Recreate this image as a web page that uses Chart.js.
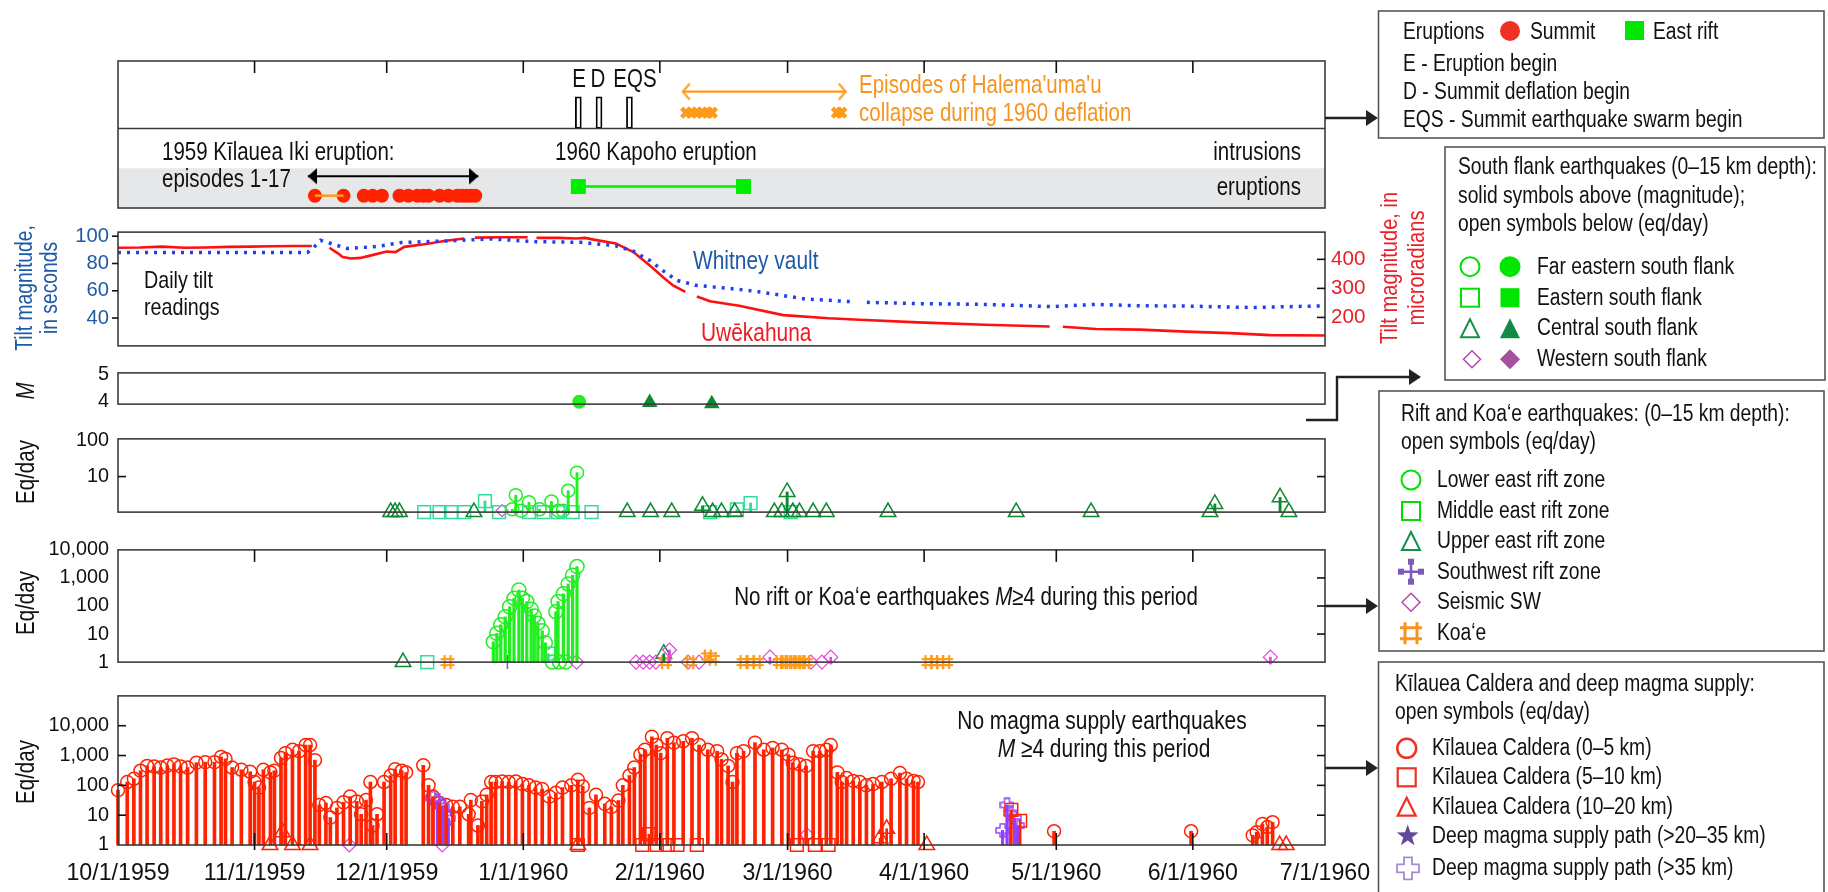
<!DOCTYPE html>
<html>
<head>
<meta charset="utf-8">
<title>Kilauea 1959-1960 timeline</title>
<script src="https://cdn.jsdelivr.net/npm/chart.js@4.4.1/dist/chart.umd.min.js"></script>
<style>
  html, body { margin: 0; padding: 0; background: #fff; }
  body { position: relative; width: 1828px; height: 892px; overflow: hidden; }
  canvas.panel { position: absolute; left: 0; z-index: 1; }
  #overlay { position: absolute; left: 0; top: 0; z-index: 2; }
  .t { position: absolute; white-space: nowrap; line-height: 1; z-index: 3; }
</style>
</head>
<body>
<svg id="overlay" width="1828" height="892"></svg>
<script>
// ---------- x axis: days since 10/1/1959 ----------
const monthDays = [0, 31, 61, 92, 123, 152, 183, 213, 244, 274];
const monthLabels = ['10/1/1959', '11/1/1959', '12/1/1959', '1/1/1960', '2/1/1960',
                     '3/1/1960', '4/1/1960', '5/1/1960', '6/1/1960', '7/1/1960'];

// ---------- top strip ----------
const eventDays = [104.5, 109.2, 116.1];                 // E, D, EQS
const collapseDays = [129, 130.2, 131.4, 132.6, 133.8, 134.8, 163.2, 164.2];
const collapseSpan = [128.2, 165.2];
const ikiSpan = [43.1, 81.8];
const summitEruptionDays = [44.7, 51.2, 55.8, 57.8, 59.9, 63.9, 65.9, 68, 69.3, 70.5, 73, 75, 77, 78.1, 79.1, 80.1, 81.1];
const episode1Span = [44.7, 51.2];
const kapohoSpan = [104.5, 142];

// ---------- daily tilt ----------
const whitneyDays = [0, 10, 20, 30, 43, 44.5, 46, 48, 50, 52, 59, 64.4, 74.5, 84.7, 95, 105, 113, 117, 120.8, 124,
                     127, 128.9, 131, 138, 145, 156, 166.5, 168.6, 170, 181.6, 196.8, 212, 222, 232, 242.4, 257.6, 274];
const whitneySec = [88, 88, 88, 88, 88, 92, 97, 95, 93, 91, 92.5, 95.4, 96.5, 98, 96, 95.5, 93, 89, 82, 74,
                    67.5, 66, 64, 62, 59.5, 54, 52, null, 51.5, 50.6, 50, 48.4, 50, 49, 48.8, 47.7, 49];
const uweDays = [0, 5, 10, 15, 20, 25, 30, 35, 40, 44, 46, 48, 50, 51, 53, 55, 57, 61, 63, 65,
                 69.5, 74.5, 78.6, 80, 81, 87, 93, 94, 95, 100, 104, 106, 108, 113, 117, 121, 124, 126, 128.8, 130,
                 131.4, 134.4, 141, 151, 161.3, 168.4, 181.6, 196.8, 211.5, 213, 214.5, 222, 232, 242.4, 252.5, 261.6, 274];
const uweMicrorad = [440, 441, 444, 440, 441, 443, 444, 445, 446, 446, null, 440, 420, 408, 403, 405, 412, 427, 425, 443,
                     452, 464, 472, null, 475, 476, 476, null, 474, 474, 472, 474, 468, 455, 425, 375, 335, 310, 288, null,
                     272, 256, 240, 208, 197, 192, 183, 175, 169, null, 168, 160, 158, 151, 146, 139, 138];

// ---------- south flank magnitude (M) ----------
const mFarDays = [104.7], mFarVals = [4.0];
const mCentDays = [120.7, 134.8], mCentVals = [3.98, 3.93];

// ---------- south flank eq/day ----------
const sfFarDays = [89.5, 90.3, 91.5, 93.3, 95.7, 98.4, 100.0, 101.0, 102.2, 104.2];
const sfFarVals = [1.2, 3.0, 1.1, 1.9, 1.2, 2.0, 1.1, 1.1, 4.0, 12.9];
const sfEastDays = [69.5, 73.0, 75.6, 78.6, 83.3, 86.5, 93.3, 96.6, 99.9, 103.2, 107.5, 134.4, 140.5, 143.6, 152.7];
const sfEastVals = [1, 1, 1, 1, 2.05, 1, 1, 1, 1, 1, 1, 1, 1.2, 1.8, 1];
const sfCentDays = [61.9, 62.9, 63.9, 80.8, 115.6, 120.9, 125.7, 132.7, 135, 137, 140, 149, 150.7, 151.9, 153.2,
                    154.7, 157.8, 160.8, 174.8, 203.9, 220.9, 247.9, 249, 263.8, 265.8];
const sfCentVals = [1, 1, 1, 1, 1, 1, 1, 1.5, 1, 1, 1, 1, 1, 3.7, 1, 1, 1, 1, 1, 1, 1, 1, 1.7, 2.6, 1];
const sfWestDays = [87.2], sfWestVals = [1.1];

// ---------- rift and Koa'e eq/day ----------
const lerzDays = [85.2, 86.0, 86.9, 87.9, 88.9, 89.9, 91.0, 91.8, 92.8, 93.8, 94.5, 95.3, 96.3, 97.0,
                  98.6, 99.4, 99.9, 100.2, 101.1, 101.6, 102.2, 103.2, 104.2];
const lerzVals = [5.3, 10.6, 21.5, 41, 94, 187, 372, 187, 144, 77, 44, 24.5, 13, 4.9,
                  1, 62, 144, 1, 273, 1, 613, 1250, 2540];
const merzDays = [70.2, 97.7], merzVals = [1, 2];
const uerzDays = [64.7, 123.9], uerzVals = [1, 2];
const swrzDays = [88.4], swrzVals = [1];
const seismicSwDays = [104.1, 117.6, 119.2, 120.7, 122.1, 125.2, 129.4, 131.9, 148, 157.3, 159.8, 161.8, 261.6];
const seismicSwVals = [1, 1, 1, 1, 1, 2.7, 1, 1, 1.5, 1, 1, 1.5, 1.5];
const koaeDays = [74.8, 124.2, 129.9, 133.9, 135, 142, 143.6, 145, 150.2, 151.2, 152.2, 153.2, 154.2, 155.2, 156.2,
                  184, 185.3, 186.6, 188];
const koaeVals = [1, 1, 1, 1.6, 1.3, 1, 1, 1, 1, 1, 1, 1, 1, 1, 1, 1, 1, 1, 1];

// ---------- Kilauea caldera and deep magma supply eq/day ----------
const caldDays = [0, 2.1, 3.6, 5.1, 6.6, 8.2, 9.7, 11.2, 12.7, 14.2, 15.8, 17.8, 19.8, 21.9, 23.4, 24.4, 25.9, 28, 30, 31,
  32, 33, 34.6, 35.5, 37, 38, 39.6, 41.1, 42.6, 43.6, 44.7, 45.7, 47.2, 48.2, 49.7, 51.2, 52.7, 54.2, 55.2, 56.3,
  57.3, 57.8, 58.8, 60.4, 61.9, 62.9, 64.4, 65.4, 69.3, 70.5, 71.5, 73, 74.5, 76, 77.6, 79.6, 80.1, 81.7, 82.6, 83.7,
  84.7, 85.7, 87.2, 88.7, 90.3, 91.8, 93.3, 94.8, 96.3, 97.9, 99.4, 100.9, 102.9, 104.4, 105.5, 107, 108.5, 110.5, 112, 113.6,
  114.6, 116.1, 117.2, 118.6, 119.6, 121.2, 122.2, 123.2, 124.7, 126.2, 128.3, 130.3, 131.9, 133.9, 136, 137, 138.5, 139.5, 140.5, 142,
  144.6, 146.6, 148.6, 150.7, 152.2, 153.2, 154.7, 156.2, 157.8, 159.3, 160.8, 161.8, 163.3, 164.3, 165.4, 166.9, 168.4, 169.9, 171.4, 173.4,
  175.5, 177.5, 179, 180.6, 181.6, 212.5, 243.6, 257.6, 258.5, 259.8, 260.9, 262.1];
const caldVals = [69, 129, 166, 309, 447, 427, 396, 460, 505, 430, 396, 574, 600, 600, 900, 770, 396, 333, 285, 129,
  84, 333, 272, 310, 830, 1200, 1560, 1400, 2250, 2250, 700, 22, 25.5, 8.3, 17.5, 27, 42, 29, 10.7, 32,
  129, 4.5, 10.7, 129, 213, 350, 310, 270, 470, 100, 42, 25.5, 22, 19, 19, 10.7, 32, 4.5, 29, 48,
  129, 129, 135, 129, 135, 110, 100, 84, 75, 42, 56, 84, 100, 153, 92, 17.5, 48, 24, 19, 31,
  100, 213, 396, 1070, 1560, 4230, 2250, 1200, 3800, 2700, 3000, 3800, 2250, 1560, 1400, 740, 447, 129, 1200, 1400,
  2700, 1560, 1800, 1560, 1070, 574, 505, 447, 1400, 1400, 1560, 2250, 272, 129, 175, 140, 129, 100, 110, 129,
  166, 258, 166, 140, 129, 2.9, 2.9, 2.1, 2.7, 5.1, 4, 5.8];
const cald510Days = [104.4, 119, 120.5, 122.3, 124.8, 127, 131.4, 154.1, 158.2, 161.3, 202.8, 204.8];
const cald510Vals = [1, 1, 2.3, 1, 1, 1, 1, 1, 1, 1, 15, 6.5];
const cald1020Days = [34.5, 37.3, 39.6, 43.6, 104.4, 173, 174.5, 183.6, 263.7, 265.2];
const cald1020Vals = [1, 2.7, 1, 1, 1, 1.7, 3.5, 1, 1, 1];
const deep35Days = [71.5, 72.5, 73.6, 74.2, 75, 200.8, 201.8, 202.5, 203.5, 204.2];
const deep35Vals = [37, 30, 20, 12, 8, 3.1, 22, 12, 8, 4.5];
const caldSwDays = [52.5, 73.6, 156.4], caldSwVals = [1, 1, 2.2];

// ---------- fonts ----------
function fontExists(name) {
  const c = document.createElement('canvas').getContext('2d');
  const probe = 'mmmmmmmmmlli WQ 0123456789';
  c.font = '40px monospace'; const a = c.measureText(probe).width;
  c.font = '40px "' + name + '", monospace'; const b = c.measureText(probe).width;
  c.font = '40px serif'; const d = c.measureText(probe).width;
  c.font = '40px "' + name + '", serif'; const e = c.measureText(probe).width;
  return a !== b || d !== e;
}
const NARROW = fontExists('Liberation Sans Narrow');
const FAM = NARROW ? '"Liberation Sans Narrow", "Arial Narrow", sans-serif'
                   : '"Liberation Sans", Arial, Helvetica, sans-serif';
const SX = NARROW ? 1 : 0.82;           // squeeze for html text without a narrow face
const cfs = n => NARROW ? n : Math.round(n * 0.86 * 10) / 10;
Chart.defaults.font.family = FAM;
Chart.defaults.color = '#111';

// ---------- colours ----------
const LIME = '#22ee22', TEAL = '#33dd99', DKGREEN = '#0d8a30', MAGENTA = '#e045e0';
const ORANGE = '#ff9a1a', PURPLE = '#9040ff', RED = '#ff2200';

// ---------- helpers ----------
const CW = 1400, AREA_L = 118, AREA_R = 1325;
const xy = (days, vals) => days.map((d, i) => ({ x: d, y: vals[i] }));
const span = (s, v) => [{ x: s[0], y: v }, { x: s[1], y: v }];

function symbol(w, h, draw) {
  const c = document.createElement('canvas');
  c.width = w; c.height = h;
  draw(c.getContext('2d'));
  return c;
}
const hashSym = symbol(16, 16, g => {
  g.strokeStyle = ORANGE; g.lineWidth = 2.2;
  [5, 11].forEach(p => { g.beginPath(); g.moveTo(p, 1); g.lineTo(p, 15); g.moveTo(1, p); g.lineTo(15, p); g.stroke(); });
});
const deepCross = symbol(15, 15, g => {
  g.strokeStyle = PURPLE; g.lineWidth = 1.4;
  const a = 5, b = 10, e = 14, s = 1;
  g.beginPath();
  g.moveTo(a, s); g.lineTo(b, s); g.lineTo(b, a); g.lineTo(e, a); g.lineTo(e, b); g.lineTo(b, b);
  g.lineTo(b, e); g.lineTo(a, e); g.lineTo(a, b); g.lineTo(s, b); g.lineTo(s, a); g.lineTo(a, a);
  g.closePath(); g.stroke();
});
const headL = c => symbol(18, 20, g => { g.fillStyle = c; g.beginPath(); g.moveTo(9, 10); g.lineTo(18, 2); g.lineTo(18, 18); g.closePath(); g.fill(); });
const headR = c => symbol(18, 20, g => { g.fillStyle = c; g.beginPath(); g.moveTo(9, 10); g.lineTo(0, 2); g.lineTo(0, 18); g.closePath(); g.fill(); });
const chevL = c => symbol(18, 20, g => { g.strokeStyle = c; g.lineWidth = 2; g.beginPath(); g.moveTo(16, 2); g.lineTo(9, 10); g.lineTo(16, 18); g.stroke(); });
const chevR = c => symbol(18, 20, g => { g.strokeStyle = c; g.lineWidth = 2; g.beginPath(); g.moveTo(2, 2); g.lineTo(9, 10); g.lineTo(2, 18); g.stroke(); });

function stems(days, vals, color, w) {
  return { type: 'bar', data: xy(days, vals), backgroundColor: color, borderWidth: 0,
           barThickness: w, grouped: false, base: 1, clip: false };
}
function marks(days, vals, style, r, color, o = {}) {
  return { type: 'scatter', data: xy(days, vals), pointStyle: style, pointRadius: r,
           borderColor: color, backgroundColor: o.fill || 'rgba(0,0,0,0)',
           borderWidth: o.bw ?? 1.5, clip: false };
}

// frame, band and inside ticks
const framePlugin = {
  id: 'frame',
  beforeDatasetsDraw(chart, args, o) {
    const { ctx, chartArea: a } = chart;
    const y = chart.scales.y;
    ctx.save();
    (o.bands || []).forEach(b => {
      const p0 = y.getPixelForValue(b[0]), p1 = y.getPixelForValue(b[1]);
      ctx.fillStyle = '#e6e7e8';
      ctx.fillRect(a.left, Math.min(p0, p1), a.right - a.left, Math.abs(p1 - p0));
    });
    ctx.restore();
  },
  afterDatasetsDraw(chart, args, o) {
    const { ctx, chartArea: a } = chart;
    const x = chart.scales.x;
    const seg = (x0, y0, x1, y1) => { ctx.beginPath(); ctx.moveTo(x0, y0); ctx.lineTo(x1, y1); ctx.stroke(); };
    ctx.save();
    ctx.strokeStyle = '#3c3c3c'; ctx.lineWidth = 1.6;
    (o.hlines || []).forEach(v => { const p = chart.scales.y.getPixelForValue(v); seg(a.left, p, a.right, p); });
    ctx.strokeRect(a.left, a.top, a.right - a.left, a.bottom - a.top);
    ctx.strokeStyle = '#111';
    (o.topTicks || []).forEach(d => { const p = x.getPixelForValue(d); seg(p, a.top, p, a.top + 12); });
    (o.bottomTicks || []).forEach(d => { const p = x.getPixelForValue(d); seg(p, a.bottom - 12, p, a.bottom + 5); });
    const ly = chart.scales[o.leftAxis || 'y'], ry = chart.scales[o.rightAxis || 'y'];
    (o.leftTicks || []).forEach(v => {
      const p = ly.getPixelForValue(v);
      if (o.leftOut) seg(a.left - 6, p, a.left, p); else seg(a.left, p, a.left + 8, p);
    });
    (o.rightTicks || []).forEach(v => { const p = ry.getPixelForValue(v); seg(a.right - 8, p, a.right, p); });
    ctx.restore();
  }
};

function xAxis(show) {
  return {
    type: 'linear', min: monthDays[0], max: monthDays[monthDays.length - 1], offset: false, display: !!show,
    grid: { display: false, drawTicks: false }, border: { display: false },
    afterBuildTicks: s => { s.ticks = monthDays.map(v => ({ value: v })); },
    ticks: { autoSkip: false, maxRotation: 0, minRotation: 0, padding: 15, color: '#111',
             font: { size: cfs(27) }, callback: (v, i) => monthLabels[i] },
    afterFit: s => { if (show) s.height = 47; }
  };
}
function yAxis(o) {
  const vals = o.tickVals;
  return Object.assign({
    position: 'left',
    grid: { display: false, drawTicks: false }, border: { display: false },
    afterBuildTicks: s => { s.ticks = vals.map(v => ({ value: v })); },
    ticks: { autoSkip: false, padding: o.pad || 9, color: o.color || '#111', font: { size: cfs(o.size || 23) },
             callback: v => Number(v).toLocaleString('en-US') },
    afterFit: s => { s.width = o.position === 'right' ? CW - AREA_R : AREA_L; }
  }, o.extra || {});
}

function panel(top, bottom, o) {
  const padT = o.padT ?? 16, padB = o.padB ?? 16, axisH = o.axisH || 0;
  const cv = document.createElement('canvas');
  cv.className = 'panel';
  cv.width = CW; cv.height = bottom - top + padT + padB + axisH;
  cv.style.top = (top - padT) + 'px';
  document.body.appendChild(cv);
  return new Chart(cv, {
    type: 'scatter',
    data: { datasets: o.datasets },
    options: {
      responsive: false, animation: false, events: [],
      layout: { padding: { top: padT, bottom: padB, left: o.padL || 0, right: o.padR ?? (CW - AREA_R) } },
      plugins: { legend: { display: false }, tooltip: { enabled: false }, frame: o.frame || {} },
      scales: Object.assign({ x: xAxis(o.xLabels) }, o.scales)
    },
    plugins: [framePlugin]
  });
}

// ---------- panel 1: events strip (rows in y units) ----------
const ROW = { band: [0, 1], divider: 2, eventBar: [2, 2.8], collapseArrow: 2.93, collapse: 2.4,
              ikiArrow: 0.8, summit: 0.31, kapoho: 0.54 };
panel(61, 208, {
  padL: AREA_L,
  scales: { y: { type: 'linear', min: 0, max: 3.7, display: false } },
  frame: { bands: [ROW.band], hlines: [ROW.divider], topTicks: monthDays.slice(1, -1) },
  datasets: [
    { type: 'bar', data: eventDays.map(d => ({ x: d, y: ROW.eventBar })), backgroundColor: '#fff',
      borderColor: '#000', borderWidth: 1.8, borderSkipped: false, barThickness: 6, grouped: false },
    { type: 'line', data: span(collapseSpan, ROW.collapseArrow), borderColor: ORANGE, borderWidth: 2.2,
      pointRadius: 1, pointStyle: [chevL(ORANGE), chevR(ORANGE)], clip: false },
    marks(collapseDays, collapseDays.map(() => ROW.collapse), 'crossRot', 6.5, ORANGE, { bw: 4.5 }),
    { type: 'line', data: span(ikiSpan, ROW.ikiArrow), borderColor: '#000', borderWidth: 2,
      pointRadius: 1, pointStyle: [headL('#000'), headR('#000')], clip: false },
    { type: 'line', data: span(episode1Span, ROW.summit), borderColor: ORANGE, borderWidth: 2.5, pointRadius: 0 },
    marks(summitEruptionDays, summitEruptionDays.map(() => ROW.summit), 'circle', 7, RED, { fill: RED, bw: 0 }),
    { type: 'line', data: span(kapohoSpan, ROW.kapoho), borderColor: '#00ee00', borderWidth: 2.5,
      pointRadius: 10.6, pointStyle: 'rect', pointBackgroundColor: '#00ee00', pointBorderWidth: 0 }
  ]
});

// ---------- panel 2: daily tilt ----------
panel(227, 351, {
  padR: 0,
  scales: {
    y: yAxis({ tickVals: [40, 60, 80, 100], color: '#1f5aa6', size: 23.5, extra: { type: 'linear', min: 19.6, max: 103 } }),
    y2: yAxis({ tickVals: [200, 300, 400], color: '#e8202a', size: 24, pad: 6, position: 'right',
                extra: { type: 'linear', position: 'right', min: 102, max: 493.8 } })
  },
  frame: { leftTicks: [40, 60, 80, 100], leftOut: true, rightAxis: 'y2', rightTicks: [200, 300, 400] },
  datasets: [
    { type: 'line', data: xy(whitneyDays, whitneySec), yAxisID: 'y', borderColor: '#1f3ff0',
      borderWidth: 3.5, borderDash: [3, 6], pointRadius: 0, spanGaps: false },
    { type: 'line', data: xy(uweDays, uweMicrorad), yAxisID: 'y2', borderColor: '#ff1010',
      borderWidth: 2.6, pointRadius: 0, spanGaps: false }
  ]
});

// ---------- panel 3: magnitude ----------
panel(368, 409, {
  scales: { y: yAxis({ tickVals: [4, 5], extra: { type: 'linear', min: 3.917, max: 5.056 } }) },
  datasets: [
    marks(mFarDays, mFarVals, 'circle', 7, LIME, { fill: LIME, bw: 0 }),
    marks(mCentDays, mCentVals, 'triangle', 9, DKGREEN, { fill: DKGREEN, bw: 0 })
  ]
});

// ---------- panel 4: south flank eq/day ----------
panel(434, 517, {
  scales: { y: yAxis({ tickVals: [10, 100], extra: { type: 'logarithmic', min: 1, max: 115 } }) },
  frame: { leftTicks: [10], rightTicks: [10] },
  datasets: [
    stems(sfFarDays, sfFarVals, LIME, 2.2),
    stems(sfCentDays, sfCentVals, DKGREEN, 2.2),
    stems(sfEastDays, sfEastVals, TEAL, 2.2),
    marks(sfCentDays, sfCentVals, 'triangle', 9, DKGREEN),
    marks(sfEastDays, sfEastVals, 'rect', 9, TEAL),
    marks(sfFarDays, sfFarVals, 'circle', 6.5, LIME),
    marks(sfWestDays, sfWestVals, 'rectRot', 6, MAGENTA, { bw: 1.2 })
  ]
});

// ---------- panel 5: rift and Koa'e eq/day ----------
panel(545, 667, {
  scales: { y: yAxis({ tickVals: [1, 10, 100, 1000, 10000], extra: { type: 'logarithmic', min: 1, max: 10000 } }) },
  frame: { topTicks: monthDays.slice(1, -1), rightTicks: [10, 100, 1000] },
  datasets: [
    stems(lerzDays, lerzVals, LIME, 2.6),
    stems(uerzDays, uerzVals, DKGREEN, 2),
    stems(merzDays, merzVals, TEAL, 2),
    stems(seismicSwDays, seismicSwVals, MAGENTA, 2),
    stems(koaeDays, koaeVals, ORANGE, 2),
    marks(koaeDays, koaeVals, hashSym, 6, ORANGE),
    marks(seismicSwDays, seismicSwVals, 'rectRot', 7, MAGENTA, { bw: 1.2 }),
    marks(uerzDays, uerzVals, 'triangle', 9, DKGREEN),
    marks(merzDays, merzVals, 'rect', 9, TEAL),
    marks(swrzDays, swrzVals, 'cross', 7, PURPLE),
    marks(lerzDays, lerzVals, 'circle', 7, LIME)
  ]
});

// ---------- panel 6: caldera and deep magma supply eq/day ----------
panel(691, 845, {
  padB: 0, axisH: 47, xLabels: true,
  scales: { y: yAxis({ tickVals: [1, 10, 100, 1000, 10000], extra: { type: 'logarithmic', min: 1, max: 100000 } }) },
  frame: { bottomTicks: monthDays.slice(1, -1), leftTicks: [10, 100, 1000, 10000], rightTicks: [10, 100, 1000, 10000] },
  datasets: [
    stems(caldDays, caldVals, RED, 3),
    stems(cald510Days, cald510Vals, RED, 2),
    stems(cald1020Days, cald1020Vals, RED, 2),
    stems(deep35Days, deep35Vals, PURPLE, 2.4),
    marks(cald1020Days, cald1020Vals, 'triangle', 9, RED),
    marks(cald510Days, cald510Vals, 'rect', 9, RED),
    marks(caldSwDays, caldSwVals, 'rectRot', 7, MAGENTA, { bw: 1.2 }),
    marks(deep35Days, deep35Vals, deepCross, 6, PURPLE),
    marks(caldDays, caldVals, 'circle', 6.5, RED)
  ]
});

// ---------- text ----------
function txt(x, base, html, o = {}) {
  const size = o.size || 23;
  const d = document.createElement('div');
  d.className = 't';
  d.innerHTML = html;
  d.style.fontFamily = FAM;
  d.style.fontSize = size + 'px';
  d.style.color = o.color || '#111';
  d.style.left = x + 'px';
  d.style.top = (base - 0.8465 * size) + 'px';
  const al = o.align || 'left';
  const shift = al === 'center' ? 'translateX(-50%) ' : al === 'right' ? 'translateX(-100%) ' : '';
  d.style.transformOrigin = al === 'center' ? '50% 50%' : al;
  d.style.transform = shift + 'scaleX(' + SX + ')';
  document.body.appendChild(d);
}
function rtxt(cx, cy, html, o = {}) {
  const size = o.size || 23;
  const d = document.createElement('div');
  d.className = 't';
  d.innerHTML = html;
  d.style.fontFamily = FAM;
  d.style.fontSize = size + 'px';
  d.style.lineHeight = (o.lh || size) + 'px';
  d.style.textAlign = 'center';
  d.style.color = o.color || '#111';
  d.style.left = cx + 'px';
  d.style.top = cy + 'px';
  d.style.transform = 'translate(-50%, -50%) rotate(-90deg) scaleX(' + SX + ')';
  document.body.appendChild(d);
}

// events strip
txt(578.6, 87.3, 'E', { size: 25, align: 'center' });
txt(598, 87.3, 'D', { size: 25, align: 'center' });
txt(635, 87.3, 'EQS', { size: 25, align: 'center' });
txt(858.7, 93.3, "Episodes of Halema'uma'u", { size: 25, color: '#f7941d' });
txt(858.7, 120.7, 'collapse during 1960 deflation', { size: 25, color: '#f7941d' });
txt(161.6, 160, '1959 Kīlauea Iki eruption:', { size: 25 });
txt(161.6, 187.3, 'episodes 1-17', { size: 25 });
txt(555, 160, '1960 Kapoho eruption', { size: 25 });
txt(1301, 160, 'intrusions', { size: 25, align: 'right' });
txt(1301, 195, 'eruptions', { size: 25, align: 'right' });

// tilt
txt(143.7, 288.3, 'Daily tilt', { size: 24 });
txt(143.7, 315, 'readings', { size: 24 });
txt(693.3, 269.3, 'Whitney vault', { size: 25.5, color: '#1f5aa6' });
txt(701.3, 341.7, 'Uwēkahuna', { size: 25.5, color: '#ee1c25' });
rtxt(36.5, 288, 'Tilt magnitude,<br>in seconds', { size: 23.5, lh: 25, color: '#1f5aa6' });
rtxt(1401.5, 268, 'Tilt magnitude, in<br>microradians', { size: 24.5, lh: 27, color: '#e8202a' });

// axis titles
rtxt(24.5, 391, '<i>M</i>', { size: 25 });
rtxt(25, 472, 'Eq/day', { size: 25 });
rtxt(25, 603, 'Eq/day', { size: 25 });
rtxt(25, 772, 'Eq/day', { size: 25 });

// panel notes
txt(966, 605, 'No rift or Koa‘e earthquakes <i>M</i>≥4 during this period', { size: 25, align: 'center' });
txt(1101.6, 730, 'No magma supply earthquakes', { size: 25.5, align: 'center' });
txt(1103.5, 757.3, '<i>M</i> ≥4 during this period', { size: 25.5, align: 'center' });

// legends
const LS = 23.5;
txt(1402.7, 40, 'Eruptions', { size: LS });
txt(1530, 40, 'Summit', { size: LS });
txt(1653, 40, 'East rift', { size: LS });
txt(1402.7, 72, 'E - Eruption begin', { size: LS });
txt(1402.7, 100, 'D - Summit deflation begin', { size: LS });
txt(1402.7, 128, 'EQS - Summit earthquake swarm begin', { size: LS });

txt(1458.3, 175, 'South flank earthquakes (0–15 km depth):', { size: LS });
txt(1458.3, 204, 'solid symbols above (magnitude);', { size: LS });
txt(1458.3, 232, 'open symbols below (eq/day)', { size: LS });
const sfRows = [266.7, 297.7, 328.3, 359.3];
['Far eastern south flank', 'Eastern south flank', 'Central south flank', 'Western south flank']
  .forEach((s, i) => txt(1536.7, sfRows[i] + 8, s, { size: LS }));

txt(1401, 421.7, 'Rift and Koa‘e earthquakes: (0–15 km depth):', { size: LS });
txt(1401, 450, 'open symbols (eq/day)', { size: LS });
const rkRows = [480, 511, 541, 571.7, 602.3, 633.3];
['Lower east rift zone', 'Middle east rift zone', 'Upper east rift zone', 'Southwest rift zone', 'Seismic SW', 'Koa‘e']
  .forEach((s, i) => txt(1436.7, rkRows[i] + 8, s, { size: LS }));

txt(1395, 691.7, 'Kīlauea Caldera and deep magma supply:', { size: LS });
txt(1395, 720, 'open symbols (eq/day)', { size: LS });
const kcRows = [748.3, 777.3, 806.7, 836, 868.3];
['Kīlauea Caldera (0–5 km)', 'Kīlauea Caldera (5–10 km)', 'Kīlauea Caldera (10–20 km)',
 'Deep magma supply path (>20–35 km)', 'Deep magma supply path (>35 km)']
  .forEach((s, i) => txt(1431.7, kcRows[i] + 8, s.replace(/>/g, '&gt;'), { size: LS }));

// ---------- overlay: legend frames, symbols, arrows ----------
const sv = [];
[[1378.5, 11, 445.5, 127], [1445, 147, 380, 233], [1379, 391, 445, 260], [1378.5, 662, 445.5, 240]]
  .forEach(([x, y, w, h]) => sv.push(`<rect x="${x}" y="${y}" width="${w}" height="${h}" fill="none" stroke="#555" stroke-width="1.6"/>`));
function arrow(pts) {
  const [x1, y1] = pts[pts.length - 1];
  const L = 12, H = 8;
  const line = pts.slice(0, -1).concat([[x1 - L + 1, y1]]);
  sv.push(`<polyline points="${line.map(p => p.join(',')).join(' ')}" fill="none" stroke="#222" stroke-width="2.4"/>`);
  sv.push(`<polygon points="${x1 - L},${y1 - H} ${x1},${y1} ${x1 - L},${y1 + H}" fill="#222"/>`);
}
arrow([[1325, 118], [1378, 118]]);
arrow([[1306, 420], [1337, 420], [1337, 377], [1421, 377]]);
arrow([[1325, 606], [1378, 606]]);
arrow([[1325, 768], [1378, 768]]);

const circ = (x, y, r, st, fill, w = 2) => sv.push(`<circle cx="${x}" cy="${y}" r="${r}" fill="${fill || 'none'}" stroke="${fill ? 'none' : st}" stroke-width="${w}"/>`);
const sq = (x, y, s, st, fill, w = 2) => sv.push(`<rect x="${x - s / 2}" y="${y - s / 2}" width="${s}" height="${s}" fill="${fill || 'none'}" stroke="${fill ? 'none' : st}" stroke-width="${w}"/>`);
const tri = (x, y, s, st, fill, w = 2) => sv.push(`<polygon points="${x - s / 2},${y + s / 2} ${x + s / 2},${y + s / 2} ${x},${y - s / 2}" fill="${fill || 'none'}" stroke="${fill ? 'none' : st}" stroke-width="${w}"/>`);
const dia = (x, y, s, st, fill, w = 1.5) => sv.push(`<polygon points="${x},${y - s} ${x + s},${y} ${x},${y + s} ${x - s},${y}" fill="${fill || 'none'}" stroke="${fill ? 'none' : st}" stroke-width="${w}"/>`);

circ(1510, 31, 10, null, '#ee3124');
sq(1634.5, 30.5, 19, null, '#00e600');

circ(1470, sfRows[0], 9.5, '#00e000'); circ(1510, sfRows[0], 10.5, null, '#00e600');
sq(1470, sfRows[1], 18, '#00e000'); sq(1510, sfRows[1], 19, null, '#00e600');
tri(1470, sfRows[2], 18, '#14904a'); tri(1510, sfRows[2], 20, null, '#138a44');
dia(1472, sfRows[3], 8.5, '#b04aa6'); dia(1510, sfRows[3], 10, null, '#a5509d');

circ(1411, rkRows[0], 9.5, '#00e000');
sq(1411, rkRows[1], 18, '#00e000');
tri(1411, rkRows[2], 18, '#14904a');
(function swSym(x, y) {
  const c = '#7a5bb5';
  sv.push(`<path d="M${x - 11},${y} H${x + 11} M${x},${y - 11} V${y + 11}" stroke="${c}" stroke-width="2.6"/>`);
  [[-10, 0], [10, 0], [0, -10], [0, 10]].forEach(([dx, dy]) => sv.push(`<rect x="${x + dx - 3}" y="${y + dy - 3}" width="6" height="6" fill="${c}"/>`));
})(1411, rkRows[3]);
dia(1411, rkRows[4], 9, '#b04aa6');
sv.push(`<path d="M1405,${rkRows[5] - 11} V${rkRows[5] + 11} M1417,${rkRows[5] - 11} V${rkRows[5] + 11} M1400,${rkRows[5] - 5.5} H1422 M1400,${rkRows[5] + 5.5} H1422" stroke="#f7941d" stroke-width="3"/>`);

circ(1406.7, kcRows[0], 9.5, '#ee3124', null, 2.5);
sq(1406.7, kcRows[1], 18, '#ee3124', null, 2.2);
tri(1406.7, kcRows[2], 18, '#ee3124', null, 2.2);
(function star(x, y) {
  const pts = [];
  for (let i = 0; i < 10; i++) {
    const r = i % 2 ? 4.6 : 11.5, a = -Math.PI / 2 + i * Math.PI / 5;
    pts.push((x + r * Math.cos(a)).toFixed(1) + ',' + (y + r * Math.sin(a)).toFixed(1));
  }
  sv.push(`<polygon points="${pts.join(' ')}" fill="#62489b"/>`);
})(1407.7, kcRows[3]);
(function openCross(x, y) {
  const a = 4, b = 11;
  sv.push(`<polygon points="${x - a},${y - b} ${x + a},${y - b} ${x + a},${y - a} ${x + b},${y - a} ${x + b},${y + a} ${x + a},${y + a} ${x + a},${y + b} ${x - a},${y + b} ${x - a},${y + a} ${x - b},${y + a} ${x - b},${y - a} ${x - a},${y - a}" fill="none" stroke="#a58ad8" stroke-width="1.8"/>`);
})(1408, kcRows[4]);

document.getElementById('overlay').innerHTML = sv.join('');
</script>
</body>
</html>
